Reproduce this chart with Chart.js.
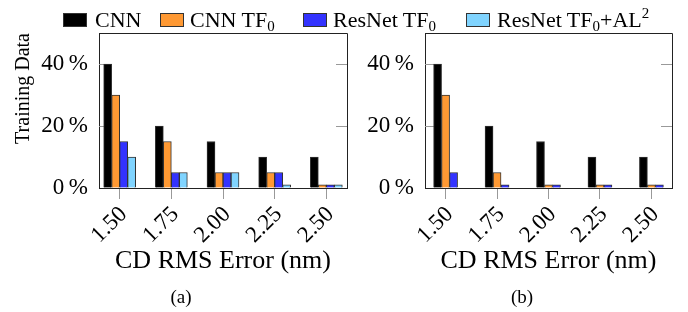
<!DOCTYPE html>
<html>
<head>
<meta charset="utf-8">
<script src="https://cdn.jsdelivr.net/npm/chart.js@4"></script>
<style>
  body { margin: 0; background: #fff; font-family: "Liberation Serif", serif; }
  #wrap { position: relative; width: 688px; height: 312px; overflow: hidden; }
  canvas { position: absolute; top: 0; }
  #cA { left: 0; }
  #cB { left: 350px; }
  .sw { position: absolute; top: 13px; width: 22px; height: 12px; border: 1px solid #333; }
  .lb { position: absolute; top: 9px; font-size: 22px; line-height: 22px; color: #000; white-space: nowrap; z-index: 2; }
  .lb sub { font-size: 15px; vertical-align: -4px; line-height: 0; }
  .lb sup { font-size: 15px; vertical-align: 9px; line-height: 0; }
  .cap { position: absolute; top: 286px; width: 60px; text-align: center; font-size: 19px; line-height: 22px; }
</style>
</head>
<body>
<div id="wrap">
  <canvas id="cA" width="350" height="312"></canvas>
  <canvas id="cB" width="338" height="312"></canvas>

  <div class="sw" style="left:63px; background:#000"></div>
  <div class="lb" style="left:95px">CNN</div>
  <div class="sw" style="left:160px; background:#FF9933"></div>
  <div class="lb" style="left:190px">CNN TF<sub>0</sub></div>
  <div class="sw" style="left:303px; background:#3333FF"></div>
  <div class="lb" style="left:333px">ResNet TF<sub>0</sub></div>
  <div class="sw" style="left:466px; background:#80D4FF"></div>
  <div class="lb" style="left:497px">ResNet TF<sub>0</sub>+AL<sup>2</sup></div>

  <div class="cap" style="left:151px">(a)</div>
  <div class="cap" style="left:492px">(b)</div>
</div>
<script>
// CD RMS error categories (nm)
const errors = [1.50, 1.75, 2.00, 2.25, 2.50];
const yTicks = [0, 20, 40];

// (a) training data needed (%)
const cnnA = [40, 20, 15, 10, 10];
const cnnTfA = [30, 15, 5, 5, 1];
const resTfA = [15, 5, 5, 5, 1];
const resTfAlA = [10, 5, 5, 1, 1];

// (b)
const cnnB = [40, 20, 15, 10, 10];
const cnnTfB = [30, 5, 1, 1, 1];
const resTfB = [5, 1, 1, 1, 1];

const FONT = '"Liberation Serif", serif';

function ds(label, vals, color) {
  return {
    label: label,
    data: errors.map((x, i) => ({ x: x, y: vals[i] })),
    backgroundColor: color,
    borderColor: '#333',
    borderWidth: 1,
    barThickness: 8
  };
}

// box top/right lines + inner y ticks
const framePlugin = {
  id: 'frame',
  beforeDatasetsDraw(chart) {
    const { ctx, chartArea: a, scales: { y } } = chart;
    ctx.save();
    ctx.strokeStyle = '#999';
    ctx.lineWidth = 1;
    yTicks.slice(1).forEach(v => {
      const py = Math.round(y.getPixelForValue(v)) + 0.5;
      ctx.beginPath();
      ctx.moveTo(a.left, py); ctx.lineTo(a.left + 11, py);
      ctx.moveTo(a.right - 11, py); ctx.lineTo(a.right, py);
      ctx.stroke();
    });
    ctx.restore();
  },
  afterDraw(chart) {
    const { ctx, chartArea: a } = chart;
    ctx.save();
    ctx.strokeStyle = '#222';
    ctx.lineWidth = 1;
    ctx.beginPath();
    ctx.moveTo(a.left, Math.round(a.top) + 0.5);
    ctx.lineTo(Math.round(a.right) + 0.5, Math.round(a.top) + 0.5);
    ctx.lineTo(Math.round(a.right) + 0.5, a.bottom);
    ctx.stroke();
    ctx.restore();
  }
};

function makeOptions(showYTitle, yWidth, padRight) {
  return {
    responsive: false,
    animation: false,
    devicePixelRatio: 1,
    layout: { padding: { top: 33, right: padRight, bottom: 35, left: 0 } },
    plugins: { legend: { display: false }, tooltip: { enabled: false } },
    scales: {
      x: {
        type: 'linear',
        min: 1.4,
        max: 2.6,
        offset: false,
        afterBuildTicks: s => { s.ticks = errors.map(v => ({ value: v })); },
        afterFit: s => { s.height = 89; },
        ticks: {
          callback: v => Number(v).toFixed(2),
          minRotation: 45, maxRotation: 45, autoSkip: false, padding: 2, labelOffset: 4,
          color: '#000', font: { family: FONT, size: 23 }
        },
        grid: { display: true, offset: false, drawOnChartArea: false, drawTicks: true, tickLength: 11, color: '#999' },
        border: { display: true, color: '#222', width: 1 },
        title: { display: true, text: 'CD RMS Error (nm)', color: '#000', font: { family: FONT, size: 26 }, padding: 0 }
      },
      y: {
        min: 0,
        max: 50,
        afterBuildTicks: s => { s.ticks = yTicks.map(v => ({ value: v })); },
        afterFit: s => { s.width = yWidth; },
        ticks: {
          callback: v => v + '\u2009%',
          padding: 11, color: '#000', font: { family: FONT, size: 23 }
        },
        grid: { display: true, drawOnChartArea: false, drawTicks: false },
        border: { display: true, color: '#222', width: 1 },
        title: { display: showYTitle, text: 'Training Data', align: 'end', color: '#000', font: { family: FONT, size: 20 }, padding: { top: 12, bottom: 0 } }
      }
    }
  };
}

new Chart(document.getElementById('cA').getContext('2d'), {
  type: 'bar',
  data: {
    datasets: [
      ds('CNN', cnnA, '#000000'),
      ds('CNN TF0', cnnTfA, '#FF9933'),
      ds('ResNet TF0', resTfA, '#3333FF'),
      ds('ResNet TF0+AL2', resTfAlA, '#80D4FF')
    ]
  },
  options: makeOptions(true, 99, 3),
  plugins: [framePlugin]
});

new Chart(document.getElementById('cB').getContext('2d'), {
  type: 'bar',
  data: {
    datasets: [
      ds('CNN', cnnB, '#000000'),
      ds('CNN TF0', cnnTfB, '#FF9933'),
      ds('ResNet TF0', resTfB, '#3333FF')
    ]
  },
  options: makeOptions(false, 75, 16),
  plugins: [framePlugin]
});
</script>
</body>
</html>
